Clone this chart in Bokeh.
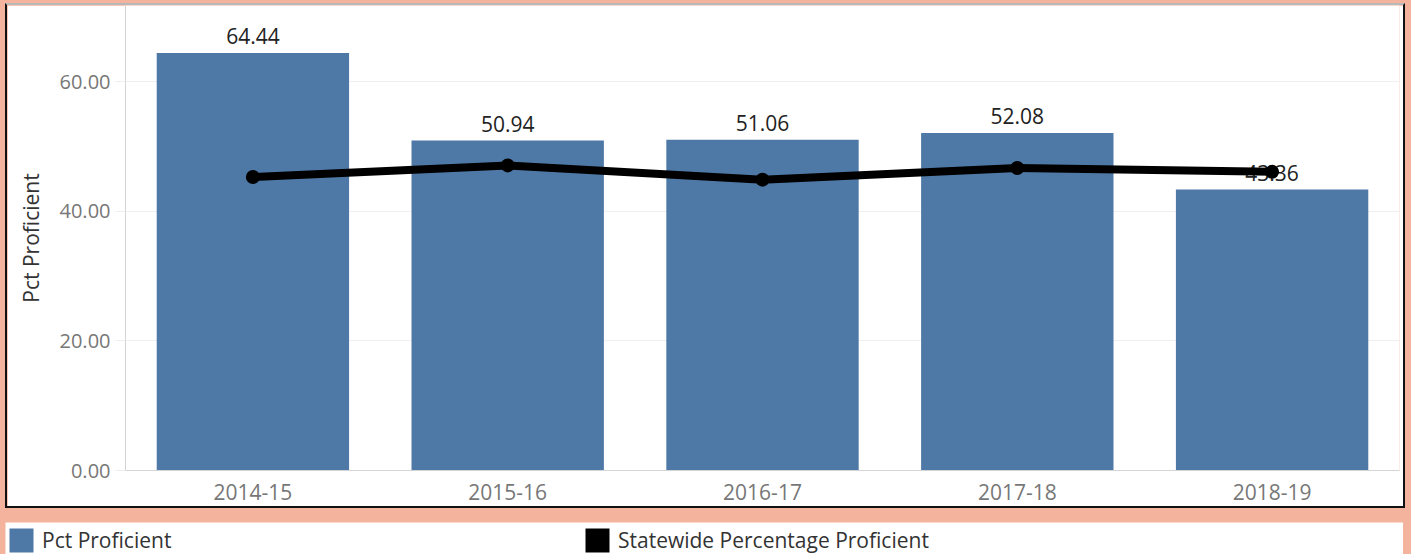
from bokeh.plotting import figure
from bokeh.models import (ColumnDataSource, FactorRange, Range1d, FixedTicker,
                          PrintfTickFormatter, Legend, LegendItem)
from bokeh.core.properties import value
from bokeh.embed import file_html
from bokeh.resources import INLINE

# ---- data ----
years = ["2014-15", "2015-16", "2016-17", "2017-18", "2018-19"]
pct_proficient = [64.44, 50.94, 51.06, 52.08, 43.36]
statewide_pct = [45.3, 47.1, 44.9, 46.7, 46.1]
y_ticks = [0, 20, 40, 60]
legend_labels = ["Pct Proficient", "Statewide Percentage Proficient"]

BAR = "#4E79A7"
SALMON = "#F4B39C"
FONT = "Open Sans"

src = ColumnDataSource(dict(
    year=years,
    pct=pct_proficient,
    state=statewide_pct,
    lbl=["%.2f" % v for v in pct_proficient],
))

p = figure(
    x_range=FactorRange(*years, range_padding=0),
    y_range=Range1d(0, 71.78),
    width=1400, height=505,
    output_backend="svg", toolbar_location=None,
    min_border_left=118, min_border_right=8, min_border_top=0, min_border_bottom=40,
    background_fill_color="white", border_fill_color="white",
    outline_line_color=None,
    styles={"margin-left": "5px", "margin-top": "3px",
            "border-left": "2px solid #111111", "border-right": "2px solid #111111",
            "border-bottom": "2px solid #111111", "border-top": "2px solid #b8b8b8"},
)

p.vbar(x="year", top="pct", width=0.755, source=src, fill_color=BAR, line_color=None)
p.text(x="year", y="pct", text="lbl", source=src, text_align="center",
       text_baseline="alphabetic", y_offset=-17, text_font=value(FONT),
       text_font_size="21px", text_color="#222222")
p.line(x="year", y="state", source=src, line_color="black", line_width=8)
p.scatter(x="year", y="state", source=src, size=14, fill_color="black", line_color=None)

# axes
p.yaxis.ticker = FixedTicker(ticks=y_ticks)
p.yaxis.formatter = PrintfTickFormatter(format="%.2f")
p.yaxis.axis_label = "Pct Proficient"
p.yaxis.axis_label_text_font = FONT
p.yaxis.axis_label_text_font_style = "normal"
p.yaxis.axis_label_text_font_size = "21px"
p.yaxis.axis_label_text_color = "#333333"
p.yaxis.axis_label_standoff = 12
p.yaxis.major_label_text_font = FONT
p.yaxis.major_label_text_font_size = "20px"
p.yaxis.major_label_text_color = "#777777"
p.yaxis.major_label_standoff = 5
p.yaxis.major_tick_out = 10
p.yaxis.major_tick_in = 0
p.yaxis.major_tick_line_color = "#eeeeee"
p.yaxis.minor_tick_line_color = None
p.yaxis.axis_line_color = "#d4d4d4"

p.xaxis.major_label_text_font = FONT
p.xaxis.major_label_text_font_size = "21px"
p.xaxis.major_label_text_color = "#777777"
p.xaxis.major_label_standoff = 7
p.xaxis.major_tick_line_color = None
p.xaxis.axis_line_color = "#d4d4d4"

p.xgrid.grid_line_color = None
p.ygrid.grid_line_color = "#efefef"
p.ygrid.ticker = FixedTicker(ticks=y_ticks)

# ---- legend strip (separate root, real Legend) ----
lg = figure(
    width=1398, height=32, output_backend="svg", toolbar_location=None,
    x_range=FactorRange(*years), y_range=Range1d(0, 80),
    x_axis_type=None, y_axis_type=None,
    min_border_left=0, min_border_right=0, min_border_top=0, min_border_bottom=0,
    background_fill_color="white", border_fill_color="white", outline_line_color=None,
    styles={"margin-left": "5px", "margin-top": "14px"},
)
lg.xgrid.grid_line_color = None
lg.ygrid.grid_line_color = None
# hidden renderers: only their legend swatches are shown
r1 = lg.vbar(x="year", top="pct", width=0.5, source=src, fill_color=BAR,
             line_color=None, visible=False)
r2 = lg.vbar(x="year", top="state", width=0.5, source=src, fill_color="black",
             line_color=None, visible=False)
legend = Legend(
    items=[LegendItem(label=legend_labels[0], renderers=[r1]),
           LegendItem(label=legend_labels[1], renderers=[r2])],
    orientation="horizontal", location=(1, -1),
    glyph_width=30, glyph_height=30, label_standoff=6, label_width=540, spacing=0,
    padding=0, margin=0, border_line_color=None, background_fill_alpha=0,
    label_text_font=FONT, label_text_font_size="21px", label_text_color="#333333",
)
lg.add_layout(legend, "center")

html = file_html([p, lg], INLINE, title="Pct Proficient")
style = "<style>html, body { background-color: %s !important; }</style>" % SALMON
i = html.rfind("</body>")
html = html[:i] + style + html[i:]
open("out.html", "w").write(html)
